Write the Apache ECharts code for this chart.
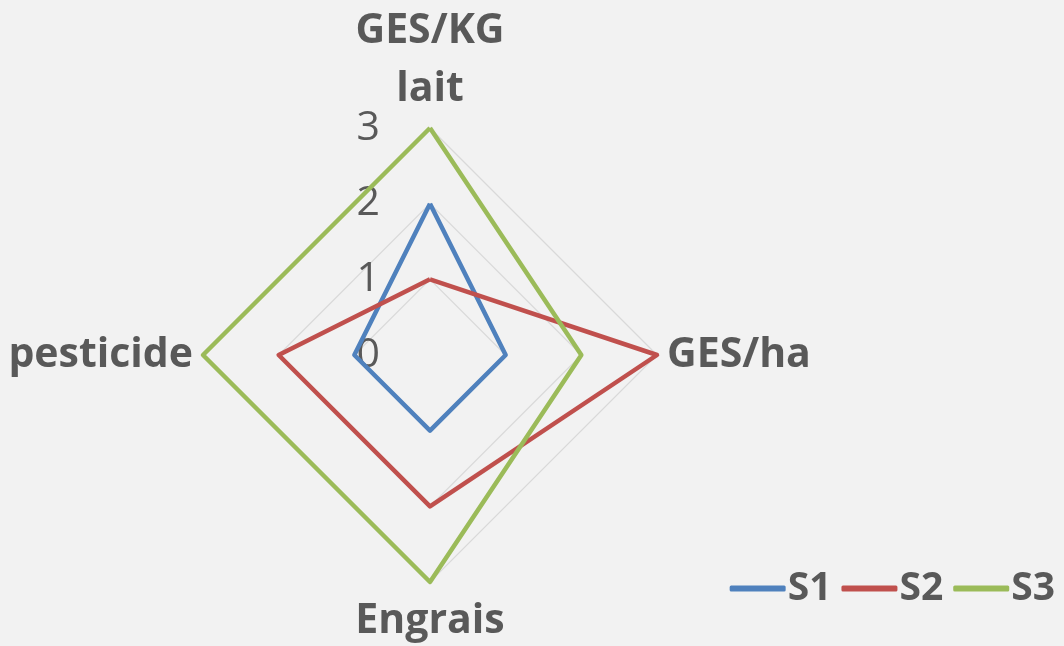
<!DOCTYPE html>
<html>
<head>
<meta charset="utf-8">
<script src="https://cdn.jsdelivr.net/npm/echarts@6/dist/echarts.min.js"></script>
<style>
	html, body { margin: 0; padding: 0; background: #f2f2f2; }
	#chart { width: 1064px; height: 646px; }
</style>
</head>
<body>
<div id="chart"></div>
<script>
// axes of the radar, counter-clockwise from the top (ECharts order)
var indicators = ["GES/KG\nlait", "pesticide", "Engrais", "GES/ha"];
var seriesNames = ["S1", "S2", "S3"];
var s1 = [2, 1, 1, 1];
var s2 = [1, 2, 2, 3];
var s3 = [3, 3, 3, 2];
var tickMax = 3;
var colors = ["#4f81bd", "#c0504d", "#9bbb59"];

var center = [430, 355];
var radius = 227;
var grey = "#595959";

var mychart = echarts.init(document.querySelector("#chart"));
var allData = [s1, s2, s3];
var option = {
	backgroundColor: "#f2f2f2",
	color: colors,
	legend: {
		right: 4,
		top: 564,
		itemWidth: 56,
		itemHeight: 6,
		itemGap: 10,
		icon: "roundRect",
		data: seriesNames,
		textStyle: {
			color: grey,
			fontSize: 39,
			fontWeight: "bold",
			fontFamily: "Open Sans",
			padding: [0, 0, 0, -3]
		}
	},
	radar: {
		center: center,
		radius: radius,
		startAngle: 90,
		splitNumber: tickMax,
		shape: "polygon",
		indicator: indicators.map(n => ({ name: n, min: 0, max: tickMax })),
		axisName: {
			color: grey,
			fontSize: 41,
			fontWeight: "bold",
			fontFamily: "Open Sans",
			lineHeight: 58
		},
		nameGap: 10,
		axisLine: { show: false },
		axisTick: { show: false },
		splitArea: { show: false },
		splitLine: { lineStyle: { color: "#d9d9d9", width: 1.2 } }
	},
	// only used to draw the value labels 0..3 along the top axis
	polar: { center: center, radius: radius },
	angleAxis: {
		startAngle: 90,
		show: false,
		min: 0,
		max: 360
	},
	radiusAxis: {
		min: 0,
		max: tickMax,
		interval: 1,
		axisLine: { show: false },
		axisTick: { show: false },
		splitLine: { show: false },
		axisLabel: {
			color: grey,
			fontSize: 41,
			fontFamily: "Open Sans",
			margin: 50
		}
	},
	series: [{
		type: "radar",
		symbol: "none",
		data: allData.map((d, i) => ({
			name: seriesNames[i],
			value: d,
			lineStyle: { color: colors[i], width: 4.5 }
		}))
	}]
};
mychart.setOption(option, true);
</script>
</body>
</html>
